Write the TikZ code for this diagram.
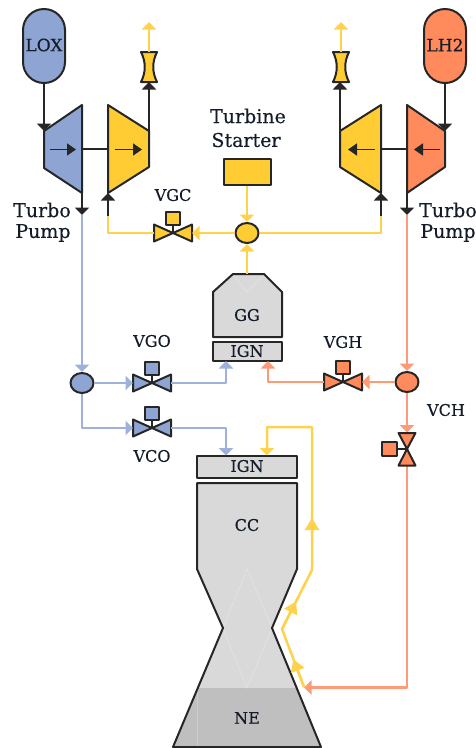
\documentclass[tikz,border=0pt]{standalone}
\usepackage{fontspec}
\setmainfont{DejaVu Serif}[FakeBold=0.35]
\usetikzlibrary{arrows.meta,shapes.geometric,shapes.misc,calc}
\definecolor{oxb}{HTML}{8EA4D2}
\definecolor{hyd}{HTML}{FF8A5C}
\definecolor{yel}{HTML}{FFCC33}
\definecolor{oxl}{HTML}{9DB1DC}
\definecolor{hyl}{HTML}{FF9A78}
\definecolor{yell}{HTML}{FFD24D}
\definecolor{cgrey}{HTML}{D9D9D9}
\definecolor{ngrey}{HTML}{BFBFBF}
\definecolor{edge}{HTML}{262626}
\definecolor{txt}{HTML}{141C2A}
\tikzset{
 x=1pt,y=-1pt,
 lab/.style={text=txt,font=\fontsize{16}{18}\selectfont,inner sep=0pt},
 biglab/.style={text=txt,font=\fontsize{19}{21}\selectfont,inner sep=0pt},
 part/.style={draw=edge,line width=2pt,line join=round},
 tank/.style={part,rounded rectangle,rotate=90,minimum width=74pt,minimum height=42pt,inner sep=0pt},
 junc/.style={part,ellipse,minimum width=23pt,minimum height=20pt,inner sep=0pt},
 sbox/.style={part,rectangle,inner sep=0pt},
 head/.style={-{Triangle[length=7.5pt,width=14pt]}},
 bighead/.style={-{Triangle[length=12pt,width=14pt]}},
 shaft/.style={line width=1.8pt,edge},
 pipe/.style={line width=2.5pt,line join=round},
 faint/.style={draw=#1,line width=.6pt},
}
\newcommand{\hvalve}[4]{% name,x,y,colour
 \coordinate (#1) at (#2,#3);
 \coordinate (#1w) at (#2-19,#3);
 \coordinate (#1e) at (#2+19,#3);
 \draw[part,fill=#4] (#2-19,#3-8.5)--(#2,#3)--(#2-19,#3+8.5)--cycle;
 \draw[part,fill=#4] (#2+19,#3-8.5)--(#2,#3)--(#2+19,#3+8.5)--cycle;
 \draw[shaft] (#2,#3)--(#2,#3-9);
 \node[sbox,fill=#4,minimum width=14.5pt,minimum height=13pt] at (#2,#3-15) {};
}
\newcommand{\nozzle}[3]{% name,x,colour
 \draw[part,fill=yel] (#2-8,52)--(#2+8,52) .. controls (#2+3,62) and (#2+3,72) .. (#2+8,82)--(#2-8,82) .. controls (#2-3,72) and (#2-3,62) .. (#2-8,52)--cycle;
 \coordinate (#1t) at (#2,52);
 \coordinate (#1b) at (#2,82);
}
\begin{document}
\begin{tikzpicture}
\useasboundingbox (0,0) rectangle (476,748);
% nozzle / chamber
\fill[cgrey] (197,483)--(297,483)--(297,569)--(272,628)--(321,747)--(173,747)--(223,628)--(197,569)--cycle;
\fill[ngrey] (198,688)--(296,688)--(321,747)--(173,747)--cycle;
\draw[faint=cgrey!70!white] (247,569)--(223,628)--(247,688)--(272,628)--cycle;
\draw[faint=ngrey!80!white] (197,688)--(197,747);
\draw[part] (197,483)--(297,483)--(297,569)--(272,628)--(321,747)--(173,747)--(223,628)--(197,569)--cycle;
\node[lab] at (247,525) {CC};
\node[lab] at (247,718) {NE};
\node[sbox,fill=cgrey,minimum width=100pt,minimum height=22pt] (ign2) at (247,467) {};
\node[lab] at (247,466) {IGN};
% GG
\draw[part,fill=cgrey] (233,274)--(264,274)--(282,292)--(282,337)--(213,337)--(213,292)--cycle;
\draw[faint=cgrey!70!white] (234,276)--(247,292)--(263,276);
\node[lab] (gg) at (247,315) {GG};
\node[sbox,fill=cgrey,minimum width=69pt,minimum height=19pt] (ign1) at (247.5,351.5) {};
\node[lab] at (247,351) {IGN};
\coordinate (ggtop) at (247,274);
% tanks
\node[tank,fill=oxb] (lox) at (44,46) {};
\node[lab,font=\fontsize{17}{19}\selectfont] at (44,45) {LOX};
\node[tank,fill=hyd] (lh2) at (445,46) {};
\node[lab,font=\fontsize{17}{19}\selectfont] at (445,45) {LH2};
% pumps
\draw[part,fill=oxb] (44,131)--(82,105)--(82,193)--(44,168)--cycle;
\draw[part,fill=yel] (108,105)--(149,131)--(149,167)--(108,193)--cycle;
\draw[part,fill=yel] (381,105)--(340,131)--(340,167)--(381,193)--cycle;
\draw[part,fill=hyd] (407,105)--(445,131)--(445,167)--(407,193)--cycle;
\coordinate (p1in) at (44,131); \coordinate (p1out) at (82,193); \coordinate (p1sh) at (82,149);
\coordinate (t1sh) at (108,149); \coordinate (t1in) at (108,193); \coordinate (t1ex) at (149,131);
\coordinate (p2in) at (445,131); \coordinate (p2out) at (407,193); \coordinate (p2sh) at (407,149);
\coordinate (t2sh) at (381,149); \coordinate (t2in) at (381,193); \coordinate (t2ex) at (340,131);
\draw[shaft] (p1sh)--(t1sh);
\draw[shaft] (t2sh)--(p2sh);
\draw[shaft,-{Triangle[length=9pt,width=12pt]}] (50,149.5)--(76,149.5);
\draw[shaft,-{Triangle[length=9pt,width=12pt]}] (115,149.5)--(142,149.5);
\draw[shaft,-{Triangle[length=9pt,width=12pt]}] (375,149.5)--(348,149.5);
\draw[shaft,-{Triangle[length=9pt,width=12pt]}] (440,149.5)--(414,149.5);
% exhaust nozzles
\nozzle{n1}{149}{yel}
\nozzle{n2}{341}{yel}
\coordinate (v1) at (149,22); \coordinate (v2) at (341,22);
\draw[pipe,yell,head] (n1t)--(v1);
\draw[pipe,yell,head] (n2t)--(v2);
\draw[shaft,head] (t1ex)--(n1b);
\draw[shaft,head] (t2ex)--(340,82);
% tank feeds
\draw[shaft,head] (lox.west)--(p1in);
\draw[shaft,head] (lh2.west)--(p2in);
% pump outlets
\coordinate (m1) at (82,215); \coordinate (m2) at (407,215);
\coordinate (m3) at (108,216); \coordinate (m4) at (381,216);
\node[junc,fill=oxb] (jo) at (82,383) {};
\node[junc,fill=hyd] (jh) at (407,382) {};
\node[junc,fill=yel] (jy) at (247,233) {};
\draw[pipe,oxl,head] (m1)--(jo);
\draw[pipe,hyl,head] (m2)--(jh);
\draw[shaft,head] (p1out)--(m1);
\draw[shaft,head] (p2out)--(m2);
% valves
\hvalve{vgc}{173}{233}{yel}
\hvalve{vgo}{152}{383}{oxb}
\hvalve{vco}{152}{428}{oxb}
\hvalve{vgh}{343}{382}{hyd}
% turbine gas
\draw[pipe,yell] (vgcw)-|(m3);
\draw[shaft,head] (m3)--(t1in);
\draw[pipe,yell] (jy)-|(m4);
\draw[shaft,head] (m4)--(t2in);
\draw[pipe,yell,head] (jy)--(vgce);
\node[sbox,fill=yel,minimum width=47pt,minimum height=26pt] (ts) at (247.5,172) {};
\draw[pipe,yell,head] (ts.south -| jy)--(jy);
\draw[pipe,yell,head] (ggtop)--(jy);
% oxidiser lines
\draw[pipe,oxl,head] (jo)--(vgow);
\draw[pipe,oxl,head] (vgoe)-|(226,361);
\draw[pipe,oxl,head] (jo)|-(vcow);
\draw[pipe,oxl,head] (vcoe)-|(226,455.5);
% hydrogen lines
\draw[pipe,hyl,head] (jh)--(vghe);
\draw[pipe,hyl,head] (vghw)-|(268,361);
% VCH
\coordinate (vch) at (407,449);
\draw[pipe,hyl,head] (jh)--(407,432.5);
\draw[pipe,hyl,head] (407,466)--(407,687.5)--(304,687.5);
\draw[part,fill=hyd] (398.5,433)--(415.5,433)--(407,449)--cycle;
\draw[part,fill=hyd] (398.5,465.5)--(415.5,465.5)--(407,449)--cycle;
\draw[shaft] (vch)--(397,449);
\node[sbox,fill=hyd,minimum width=15pt,minimum height=14pt] at (389.5,449) {};
% cooling line
\coordinate (c0) at (304,687); \coordinate (c1) at (282,629); \coordinate (c2) at (312,570);
\coordinate (c3) at (312,427); \coordinate (c4) at (267,427);
\draw[pipe,yell,head] (c0)--(c1)--(c2)--(c3)--(c4)--(267,455.5);
\draw[pipe,yell,bighead] (c0)--($(c0)!.48!(c1)$);
\draw[pipe,yell,bighead] (c1)--($(c1)!.47!(c2)$);
\draw[pipe,yell,bighead] (c2)--(312,518);
% labels
\node[biglab] at (42,210) {Turbo};
\node[biglab] at (43,233) {Pump};
\node[biglab] at (448,210) {Turbo};
\node[biglab] at (448,233) {Pump};
\node[biglab] at (248,116) {Turbine};
\node[biglab] at (246,140) {Starter};
\node[lab] at (173,195) {VGC};
\node[lab] at (152,341) {VGO};
\node[lab] at (152,456) {VCO};
\node[lab] at (343,342) {VGH};
\node[lab] at (446,410) {VCH};
\end{tikzpicture}
\end{document}
